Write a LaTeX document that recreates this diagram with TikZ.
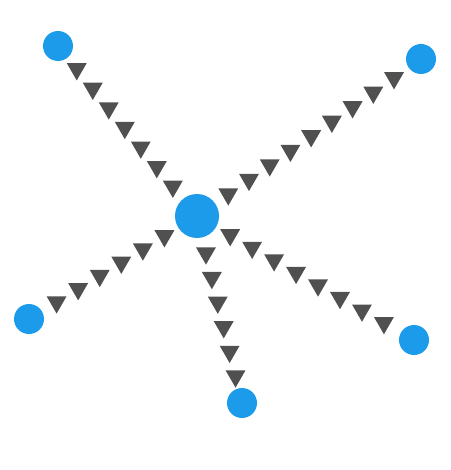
\documentclass[tikz,border=0pt]{standalone}
\usepackage{tikz}
\usetikzlibrary{shapes.geometric, decorations.markings}

\definecolor{iconblue}{RGB}{27,155,234}
\definecolor{icongray}{RGB}{80,80,80}

\begin{document}
\begin{tikzpicture}[
                x=1pt, y=-1pt,
                hub/.style={circle, fill=iconblue, minimum size=44pt, inner sep=0pt},
                leaf/.style={circle, fill=iconblue, minimum size=30pt, inner sep=0pt},
                marker/.style={
                  regular polygon, regular polygon sides=3, shape border rotate=180,
                  fill=icongray, minimum size=23pt, inner sep=0pt
                },
                flow/.style={
                  decorate,
                  decoration={markings,
                    mark=between positions 16pt and -10pt step 25.3pt with {\node[marker] {};}}
                }
              ]

              \useasboundingbox (0,0) rectangle (450,470);

              \node (C) [hub] at (197,216) {};
              \node (NW) [leaf] at (58,46) {};
              \node (NE) [leaf] at (421,59) {};
              \node (SW) [leaf] at (29,319) {};
              \node (SE) [leaf] at (414,340) {};
              \node (S) [leaf] at (242,403) {};

              % Draw dotted spokes
              \path[flow] (C) -- (NW);
              \path[flow] (C) -- (NE);
              \path[flow] (C) -- (SW);
              \path[flow] (C) -- (SE);
              \path[flow] (C) -- (S);

            \end{tikzpicture}
\end{document}
